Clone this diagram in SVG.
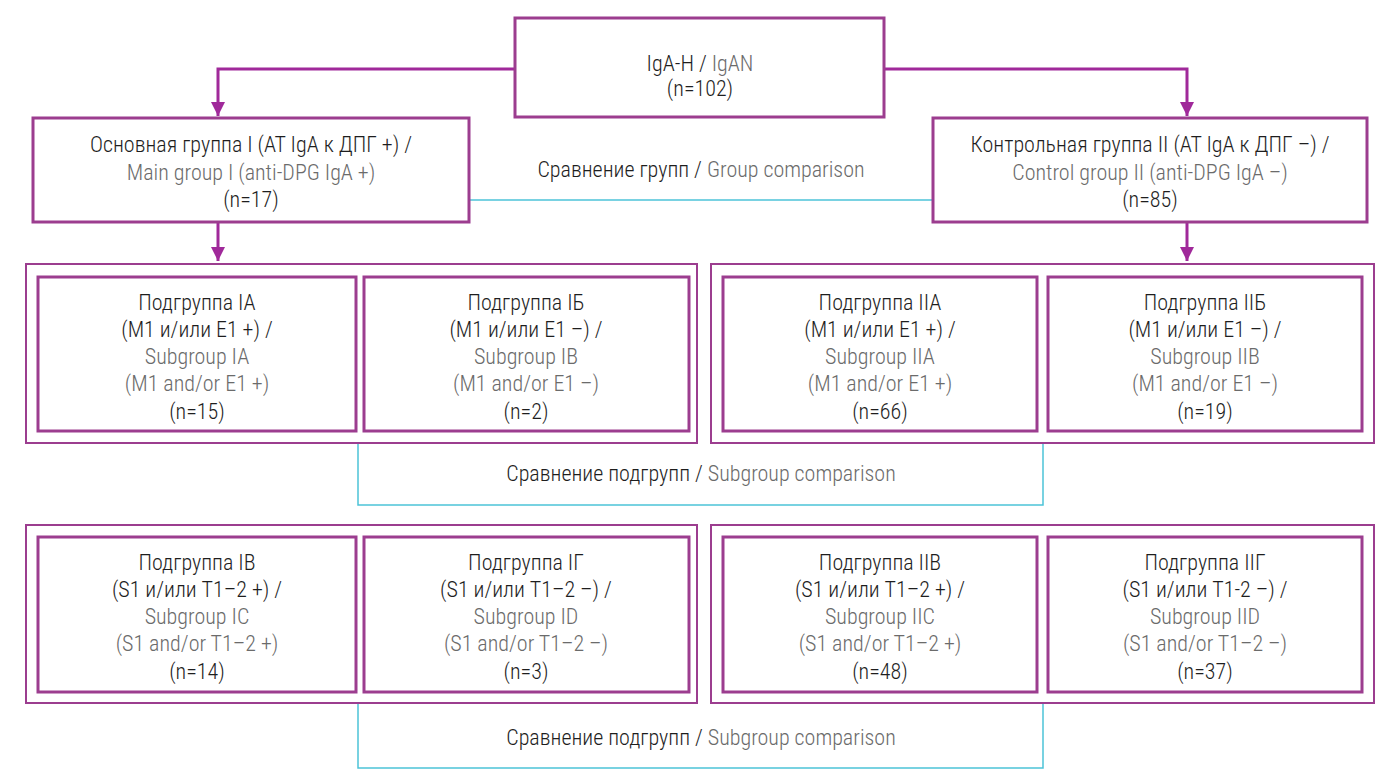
<svg xmlns="http://www.w3.org/2000/svg" width="1400" height="781" viewBox="0 0 1400 781">
<defs>
<style>
.box{fill:#fff;stroke:#9c3d8f;stroke-width:3}
.outer{fill:none;stroke:#9c3d8f;stroke-width:2}
.arrow{fill:none;stroke:#a0299a;stroke-width:3}
.cmp{fill:none;stroke:#4cc3d8;stroke-width:1.5}
text{font-family:"Liberation Sans Narrow","Roboto Condensed","Liberation Sans",sans-serif;font-size:22px;font-weight:300;text-anchor:middle;fill:#1e1e1e}
.en{fill:#6b6b6b}
</style>
<marker id="ah" viewBox="0 0 10 10" refX="10" refY="5" markerWidth="14" markerHeight="14" markerUnits="userSpaceOnUse" orient="auto">
<path d="M0,0 L10,5 L0,10 z" fill="#a0299a"/>
</marker>
</defs>
<rect width="1400" height="781" fill="#fff"/>
<g id="connectors">
<path class="arrow" d="M515,69 H218 V116" marker-end="url(#ah)"/>
<path class="arrow" d="M884,69 H1187 V116" marker-end="url(#ah)"/>
<path class="arrow" d="M218,222 V261" marker-end="url(#ah)"/>
<path class="arrow" d="M1187,222 V261" marker-end="url(#ah)"/>
<path class="cmp" d="M469,200 H933"/>
<path class="cmp" d="M358,443 V505 H1043 V443"/>
<path class="cmp" d="M358,703 V768 H1043 V703"/>
<text x="701" y="177">Сравнение групп / <tspan class="en">Group comparison</tspan></text>
<text x="701" y="481">Сравнение подгрупп / <tspan class="en">Subgroup comparison</tspan></text>
<text x="701" y="745">Сравнение подгрупп / <tspan class="en">Subgroup comparison</tspan></text>
</g>
<g id="root">
<rect class="box" x="515" y="18" width="369" height="99"/>
<text x="700" y="71">IgA-H / <tspan class="en">IgAN</tspan></text>
<text x="700" y="96">(n=102)</text>
</g>
<g id="group1">
<rect class="box" x="33" y="118" width="436" height="104"/>
<text x="251" y="152">Основная группа I (АТ IgA к ДПГ +) /</text>
<text x="251" y="180" class="en">Main group I (anti-DPG IgA +)</text>
<text x="251" y="207">(n=17)</text>
</g>
<g id="group2">
<rect class="box" x="933" y="118" width="434" height="104"/>
<text x="1150" y="152">Контрольная группа II (АТ IgA к ДПГ –) /</text>
<text x="1150" y="180" class="en">Control group II (anti-DPG IgA –)</text>
<text x="1150" y="207">(n=85)</text>
</g>
<g id="container-1-ME"><rect class="outer" x="26" y="264" width="671" height="179"/></g>
<g id="container-2-ME"><rect class="outer" x="711" y="264" width="663" height="179"/></g>
<g id="container-1-ST"><rect class="outer" x="26" y="525" width="671" height="178"/></g>
<g id="container-2-ST"><rect class="outer" x="711" y="525" width="663" height="178"/></g>
<g id="sub-IA">
<rect class="box" x="38" y="277" width="318" height="154"/>
<text x="197" y="310">Подгруппа IA</text>
<text x="197" y="337">(M1 и/или E1 +) /</text>
<text x="197" y="364" class="en">Subgroup IA</text>
<text x="197" y="391" class="en">(M1 and/or E1 +)</text>
<text x="197" y="419">(n=15)</text>
</g>
<g id="sub-IB">
<rect class="box" x="364" y="277" width="325" height="154"/>
<text x="526" y="310">Подгруппа IБ</text>
<text x="526" y="337">(M1 и/или E1 –) /</text>
<text x="526" y="364" class="en">Subgroup IB</text>
<text x="526" y="391" class="en">(M1 and/or E1 –)</text>
<text x="526" y="419">(n=2)</text>
</g>
<g id="sub-IIA">
<rect class="box" x="723" y="277" width="314" height="154"/>
<text x="880" y="310">Подгруппа IIA</text>
<text x="880" y="337">(M1 и/или E1 +) /</text>
<text x="880" y="364" class="en">Subgroup IIA</text>
<text x="880" y="391" class="en">(M1 and/or E1 +)</text>
<text x="880" y="419">(n=66)</text>
</g>
<g id="sub-IIB">
<rect class="box" x="1048" y="277" width="314" height="154"/>
<text x="1205" y="310">Подгруппа IIБ</text>
<text x="1205" y="337">(M1 и/или E1 –) /</text>
<text x="1205" y="364" class="en">Subgroup IIB</text>
<text x="1205" y="391" class="en">(M1 and/or E1 –)</text>
<text x="1205" y="419">(n=19)</text>
</g>
<g id="sub-IC">
<rect class="box" x="38" y="537" width="318" height="155"/>
<text x="197" y="570">Подгруппа IВ</text>
<text x="197" y="597">(S1 и/или T1–2 +) /</text>
<text x="197" y="624" class="en">Subgroup IC</text>
<text x="197" y="651" class="en">(S1 and/or T1–2 +)</text>
<text x="197" y="679">(n=14)</text>
</g>
<g id="sub-ID">
<rect class="box" x="364" y="537" width="325" height="155"/>
<text x="526" y="570">Подгруппа IГ</text>
<text x="526" y="597">(S1 и/или T1–2 –) /</text>
<text x="526" y="624" class="en">Subgroup ID</text>
<text x="526" y="651" class="en">(S1 and/or T1–2 –)</text>
<text x="526" y="679">(n=3)</text>
</g>
<g id="sub-IIC">
<rect class="box" x="723" y="537" width="314" height="155"/>
<text x="880" y="570">Подгруппа IIВ</text>
<text x="880" y="597">(S1 и/или T1–2 +) /</text>
<text x="880" y="624" class="en">Subgroup IIC</text>
<text x="880" y="651" class="en">(S1 and/or T1–2 +)</text>
<text x="880" y="679">(n=48)</text>
</g>
<g id="sub-IID">
<rect class="box" x="1048" y="537" width="314" height="155"/>
<text x="1205" y="570">Подгруппа IIГ</text>
<text x="1205" y="597">(S1 и/или T1-2 –) /</text>
<text x="1205" y="624" class="en">Subgroup IID</text>
<text x="1205" y="651" class="en">(S1 and/or T1–2 –)</text>
<text x="1205" y="679">(n=37)</text>
</g>
</svg>
